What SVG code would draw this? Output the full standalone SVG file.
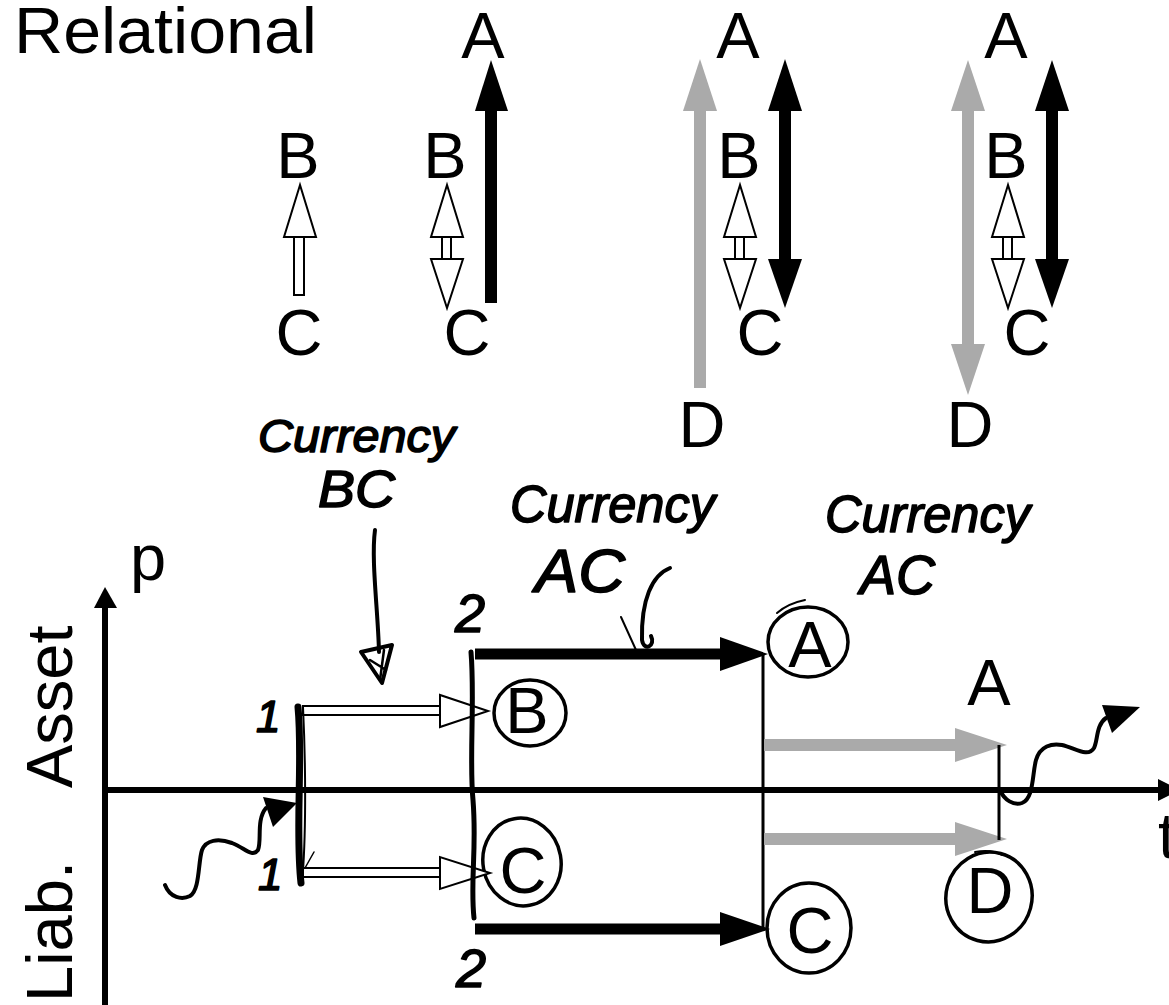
<svg xmlns="http://www.w3.org/2000/svg" width="1169" height="1005" viewBox="0 0 1169 1005">
  <defs>
    <style>
      .lbl { font-family: "Liberation Sans", Arial, sans-serif; font-size: 65px; fill: #000; }
      .mid { text-anchor: middle; }
      .hand { font-family: "Liberation Sans", Arial, sans-serif; font-style: italic; fill: #000; stroke: #000; stroke-width: 1.6px; stroke-linejoin: round; }
      .hollow { fill: #fff; stroke: #000; stroke-width: 2; stroke-linejoin: miter; }
      .solid { fill: #000; stroke: none; }
      .grey { fill: #aaaaaa; stroke: none; }
      .ink { fill: none; stroke: #000; stroke-linecap: round; stroke-linejoin: round; }
      .ring { fill: none; stroke: #000; stroke-width: 3.5; }
      .axis { stroke: #000; stroke-width: 6; fill: none; }
    </style>
  </defs>
  <rect width="1169" height="1005" fill="#fff"/>

  <!-- heading -->
  <g id="title">
    <text class="lbl" x="14" y="53" font-size="69" textLength="303" lengthAdjust="spacingAndGlyphs">Relational</text>
  </g>

  <!-- relation column 1: B <- C -->
  <g id="col1-B"><text class="lbl mid" x="298" y="178">B</text></g>
  <g id="col1-C"><text class="lbl mid" x="299" y="355">C</text></g>

  <!-- relation column 2 -->
  <g id="col2-A"><text class="lbl mid" x="483" y="58">A</text></g>
  <g id="col2-B"><text class="lbl mid" x="445" y="178">B</text></g>
  <g id="col2-C"><text class="lbl mid" x="467" y="355">C</text></g>

  <!-- relation column 3 -->
  <g id="col3-A"><text class="lbl mid" x="738" y="58">A</text></g>
  <g id="col3-B"><text class="lbl mid" x="739" y="178">B</text></g>
  <g id="col3-C"><text class="lbl mid" x="760" y="355">C</text></g>
  <g id="col3-D"><text class="lbl mid" x="702" y="447">D</text></g>

  <!-- relation column 4 -->
  <g id="col4-A"><text class="lbl mid" x="1006" y="58">A</text></g>
  <g id="col4-B"><text class="lbl mid" x="1006" y="178">B</text></g>
  <g id="col4-C"><text class="lbl mid" x="1027" y="355">C</text></g>
  <g id="col4-D"><text class="lbl mid" x="970" y="447">D</text></g>

  <!-- chart axis labels -->
  <g id="axis-p"><text class="lbl" x="130" y="580">p</text></g>
  <g id="axis-t"><text class="lbl" x="1158" y="858">t</text></g>
  <g id="axis-asset"><text class="lbl" font-size="71" transform="translate(72 788) rotate(-90)">Asset</text></g>
  <g id="axis-liab"><text class="lbl" font-size="71" transform="translate(72 1002) rotate(-90)">Liab.</text></g>

  <!-- circled positions on the chart -->
  <g id="pos-B">
    <ellipse class="ring" cx="530" cy="713" rx="36" ry="33"/>
    <text class="lbl mid" x="527" y="733">B</text>
  </g>
  <g id="pos-C1">
    <ellipse class="ring" cx="522" cy="862" rx="39" ry="44" transform="rotate(-10 522 862)"/>
    <text class="lbl mid" x="523" y="893">C</text>
  </g>
  <g id="pos-A">
    <ellipse class="ring" cx="808" cy="642" rx="40" ry="35"/>
    <path class="ink" stroke-width="2" d="M777,613 C785,606 795,602 805,600"/>
    <text class="lbl mid" x="810" y="667">A</text>
  </g>
  <g id="pos-C2">
    <ellipse class="ring" cx="809" cy="928" rx="42" ry="45"/>
    <text class="lbl mid" x="810" y="953">C</text>
  </g>
  <g id="pos-A2"><text class="lbl mid" x="989" y="705">A</text></g>
  <g id="pos-D">
    <ellipse class="ring" cx="989" cy="897" rx="43" ry="45" transform="rotate(15 989 897)"/>
    <path class="ink" stroke-width="2" d="M975,852 C985,850 995,851 1002,855"/>
    <text class="lbl mid" x="990" y="913">D</text>
  </g>

  <!-- handwritten notes -->
  <g id="note-bc">
    <text class="hand" x="258" y="452" font-size="46" textLength="197" lengthAdjust="spacingAndGlyphs">Currency</text>
    <text class="hand" x="318" y="507" font-size="52" textLength="77" lengthAdjust="spacingAndGlyphs">BC</text>
  </g>
  <g id="note-ac1">
    <text class="hand" x="510" y="522" font-size="52" textLength="205" lengthAdjust="spacingAndGlyphs">Currency</text>
    <text class="hand" x="535" y="592" font-size="62" textLength="90" lengthAdjust="spacingAndGlyphs">AC</text>
  </g>
  <g id="note-ac2">
    <text class="hand" x="825" y="532" font-size="52" textLength="205" lengthAdjust="spacingAndGlyphs">Currency</text>
    <text class="hand" x="860" y="594" font-size="56" textLength="75" lengthAdjust="spacingAndGlyphs">AC</text>
  </g>
  <g id="mark-1a"><text class="hand" x="256" y="732" font-size="44">1</text></g>
  <g id="mark-1b"><text class="hand" x="258" y="890" font-size="44">1</text></g>
  <g id="mark-2a"><text class="hand" x="455" y="632" font-size="54">2</text></g>
  <g id="mark-2b"><text class="hand" x="456" y="987" font-size="54">2</text></g>

  <!-- connectors -->
  <g id="connectors">
    <!-- column 1: hollow arrow C to B -->
    <rect class="hollow" x="294" y="237" width="10" height="58"/>
    <polygon class="hollow" points="300,185 284,237 316,237"/>

    <!-- column 2 -->
    <rect class="hollow" x="442" y="237" width="9" height="22"/>
    <polygon class="hollow" points="447,185 431,237 463,237"/>
    <polygon class="hollow" points="447,308 431,259 463,259"/>
    <rect class="solid" x="485" y="110" width="12" height="193"/>
    <polygon class="solid" points="491,60 475,111 508,111"/>

    <!-- column 3 -->
    <rect class="grey" x="694" y="110" width="12" height="278"/>
    <polygon class="grey" points="700,59 683,111 717,111"/>
    <rect class="hollow" x="735" y="237" width="9" height="22"/>
    <polygon class="hollow" points="740,185 724,237 756,237"/>
    <polygon class="hollow" points="740,308 724,259 756,259"/>
    <rect class="solid" x="779" y="110" width="12" height="150"/>
    <polygon class="solid" points="785,59 768,111 802,111"/>
    <polygon class="solid" points="785,308 768,259 802,259"/>

    <!-- column 4 -->
    <rect class="grey" x="962" y="110" width="12" height="235"/>
    <polygon class="grey" points="968,60 951,111 985,111"/>
    <polygon class="grey" points="968,395 951,344 985,344"/>
    <rect class="hollow" x="1003" y="237" width="9" height="22"/>
    <polygon class="hollow" points="1008,185 992,237 1024,237"/>
    <polygon class="hollow" points="1008,308 992,259 1024,259"/>
    <rect class="solid" x="1046" y="110" width="12" height="150"/>
    <polygon class="solid" points="1052,60 1035,111 1069,111"/>
    <polygon class="solid" points="1052,308 1035,259 1069,259"/>

    <!-- chart axes -->
    <line class="axis" x1="105" y1="1005" x2="105" y2="606"/>
    <polygon class="solid" points="105,587 94,608 117,608"/>
    <line class="axis" x1="102" y1="790" x2="1160" y2="790"/>
    <polygon class="solid" points="1158,779 1158,801 1180,790"/>

    <!-- hollow flows from the first date -->
    <rect class="hollow" x="303" y="706" width="138" height="9" stroke-width="2.5"/>
    <polygon class="hollow" points="440,695 440,727 488,711"/>
    <rect class="hollow" x="303" y="868" width="138" height="9" stroke-width="2.5"/>
    <polygon class="hollow" points="440,857 440,889 490,873"/>
    <path class="ink" stroke-width="1.5" d="M305,868 L314,852"/>

    <!-- hand-drawn date bars -->
    <path class="ink" stroke-width="7" d="M298,707 C303,760 295,830 301,883"/>
    <path class="ink" stroke-width="2" d="M303,707 C306,770 306,840 302,883"/>
    <path class="ink" stroke-width="5" d="M471,652 C475,700 469,760 473,800 C477,850 470,880 474,918"/>

    <!-- settlement flows -->
    <line x1="475" y1="654" x2="724" y2="654" stroke="#000" stroke-width="11"/>
    <polygon class="solid" points="720,637 720,671 768,654"/>
    <line x1="475" y1="929" x2="724" y2="929" stroke="#000" stroke-width="11"/>
    <polygon class="solid" points="720,912 720,946 770,929"/>
    <line x1="763" y1="653" x2="763" y2="931" stroke="#000" stroke-width="3"/>

    <!-- grey flows -->
    <line x1="764" y1="745" x2="957" y2="745" stroke="#aaaaaa" stroke-width="12"/>
    <polygon class="grey" points="955,728 955,762 1007,745"/>
    <line x1="764" y1="839" x2="957" y2="839" stroke="#aaaaaa" stroke-width="12"/>
    <polygon class="grey" points="955,822 955,856 1007,839"/>
    <line x1="999" y1="745" x2="999" y2="840" stroke="#000" stroke-width="3"/>

    <!-- hand-drawn pointers -->
    <path class="ink" stroke-width="4" d="M375,530 C371,560 378,610 379,652"/>
    <polygon class="ink" stroke-width="4" points="361,652 392,645 382,683"/>
    <path class="ink" stroke-width="2.5" d="M370,660 L386,670 M384,650 L380,680"/>
    <path class="ink" stroke-width="4" d="M670,568 C652,575 641,600 642,640 C644,652 656,646 651,636"/>
    <path class="ink" stroke-width="2" d="M621,617 L636,650"/>

    <!-- wavy flows in and out -->
    <path class="ink" stroke-width="4" d="M165,885 C170,898 182,900 190,896 C200,890 198,862 202,850 C206,840 218,838 232,843 C245,848 252,858 258,850 C262,840 256,820 266,808"/>
    <polygon class="solid" points="263,797 297,803 273,827"/>
    <path class="ink" stroke-width="4" d="M1000,790 C1004,800 1014,806 1022,803 C1034,798 1032,775 1036,760 C1040,746 1052,743 1062,745 C1075,748 1088,758 1094,748 C1098,740 1096,725 1106,718"/>
    <polygon class="solid" points="1102,705 1140,707 1112,733"/>
  </g>
</svg>
